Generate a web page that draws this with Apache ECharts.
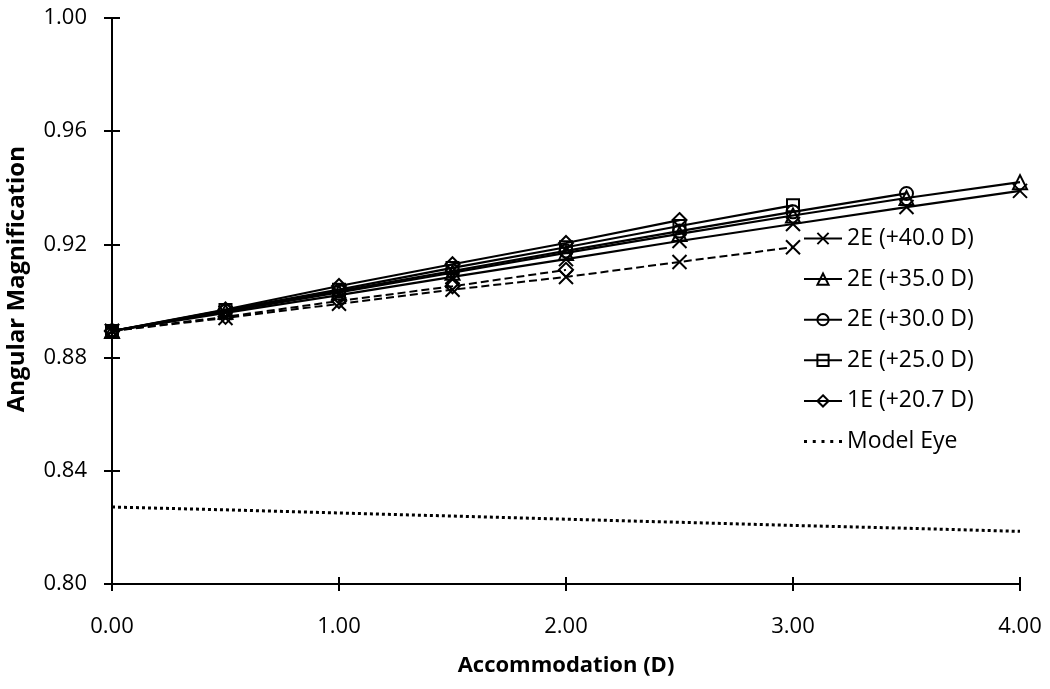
<!DOCTYPE html>
<html>
<head>
<meta charset="utf-8">
<script src="https://cdn.jsdelivr.net/npm/echarts@6/dist/echarts.min.js"></script>
<style>
html,body{margin:0;padding:0;background:#fff;}
#chart{width:1050px;height:689px;}
</style>
</head>
<body>
<div id="chart"></div>
<script>
// Accommodation (D)
var xs = [0, 0.5, 1.0, 1.5, 2.0, 2.5, 3.0, 3.5, 4.0];
var names = ['2E (+40.0 D)', '2E (+35.0 D)', '2E (+30.0 D)', '2E (+25.0 D)', '1E (+20.7 D)', 'Model Eye'];
var lens40 = [0.8894, 0.8958, 0.9021, 0.9085, 0.9148, 0.9212, 0.9272, 0.9332, 0.9389];
var lens35 = [0.8894, 0.8962, 0.9030, 0.9100, 0.9170, 0.9237, 0.9302, 0.9364, 0.9420];
var lens30 = [0.8894, 0.8965, 0.9035, 0.9106, 0.9177, 0.9247, 0.9315, 0.9380];
var lens25 = [0.8894, 0.8968, 0.9040, 0.9117, 0.9190, 0.9265, 0.9338];
var lens20 = [0.8894, 0.8970, 0.9053, 0.9130, 0.9205, 0.9286];
var modelEye = [0.8272, 0.8262, 0.8251, 0.8240, 0.8229, 0.8218, 0.8207, 0.8197, 0.8186];
// dashed companion curves (not in legend)
var dashX = [0.8894, 0.8940, 0.8990, 0.9040, 0.9085, 0.9138, 0.9190];
var dashD = [0.8894, 0.8944, 0.9000, 0.9052, 0.9110];
var yTickLabels = ['0.80', '0.84', '0.88', '0.92', '0.96', '1.00'];
var xTickLabels = ['0.00', '1.00', '2.00', '3.00', '4.00'];

function pts(arr){ return arr.map(function(v,i){ return [xs[i], v]; }); }

var crossPath = 'path://M0 0 L10 10 M10 0 L0 10';
var dotsIcon = 'path://M0 0h0.01v0.01h-0.01z M37.99 13.99h0.01v0.01h-0.01z ' +
  'M0 5.5h3v3h-3z M8.75 5.5h3v3h-3z M17.5 5.5h3v3h-3z M26.25 5.5h3v3h-3z M35 5.5h3v3h-3z';
var FONT = 'Open Sans';

function lineSeries(name, arr, symbol, size, type){
  return {
    name: name, type: 'line', data: pts(arr),
    symbol: symbol, symbolSize: size,
    lineStyle: {color: '#000', width: type === 'solid' ? 2.2 : 2, type: type},
    itemStyle: {color: 'rgba(255,255,255,0)', borderColor: '#000', borderWidth: 2},
    emphasis: {disabled: true}, animation: false, z: 3
  };
}

var series = [
  lineSeries('dashX', dashX, crossPath, 14, 'dashed'),
  lineSeries('dashD', dashD, 'diamond', 14, 'dashed'),
  lineSeries(names[0], lens40, crossPath, 14, 'solid'),
  lineSeries(names[1], lens35, 'triangle', 14, 'solid'),
  lineSeries(names[2], lens30, 'circle', 13, 'solid'),
  lineSeries(names[3], lens25, 'rect', 12, 'solid'),
  lineSeries(names[4], lens20, 'diamond', 14, 'solid'),
  {
    name: names[5], type: 'line', data: pts(modelEye), symbol: 'none',
    lineStyle: {color: '#000', width: 3, type: [3, 3]},
    itemStyle: {color: '#000'}, emphasis: {disabled: true}, animation: false
  }
];

function fmt(list){ return function(v){
  var s = v.toFixed(2);
  return list.indexOf(s) >= 0 ? s : '';
}; }

var legendData = names.map(function(n, i){
  return i === 5 ? {name: n, icon: dotsIcon, itemStyle: {color: '#000', borderWidth: 0}} : {name: n};
});

var chart = echarts.init(document.getElementById('chart'), null, {renderer: 'canvas'});
chart.setOption({
  backgroundColor: '#fff',
  animation: false,
  textStyle: {fontFamily: FONT},
  grid: {left: 112, right: 30, top: 18, bottom: 105, containLabel: false},
  legend: {
    data: legendData, orient: 'vertical', left: 803, top: 227, padding: 0,
    itemWidth: 38, itemHeight: 14, itemGap: 17.6,
    textStyle: {fontFamily: FONT, fontSize: 23, lineHeight: 22, color: '#000'},
    selectedMode: false
  },
  graphic: [{
    type: 'text', left: 5, top: 146, rotation: Math.PI / 2,
    style: {text: 'Angular Magnification', fontFamily: FONT, fontWeight: 'bold',
      fontSize: 24, fill: '#000'}
  }],
  xAxis: [{
    type: 'value', min: 0, max: 4, interval: 1,
    name: 'Accommodation (D)', nameLocation: 'middle', nameGap: 71,
    nameTextStyle: {fontFamily: FONT, fontWeight: 'bold', fontSize: 22, color: '#000'},
    axisLine: {show: true, onZero: false, lineStyle: {color: '#000', width: 2}},
    axisTick: {show: true, inside: false, length: 7, lineStyle: {color: '#000', width: 2}},
    axisLabel: {fontFamily: FONT, fontSize: 22, color: '#000', margin: 32, formatter: fmt(xTickLabels)},
    splitLine: {show: false}
  }, {
    type: 'value', min: 0, max: 4, interval: 1, position: 'bottom',
    axisLine: {show: false}, axisLabel: {show: false},
    axisTick: {show: true, inside: true, length: 7, lineStyle: {color: '#000', width: 2}},
    splitLine: {show: false}
  }],
  yAxis: [{
    type: 'value', min: 0.8, max: 1.0, interval: 0.04,
    axisLine: {show: true, onZero: false, lineStyle: {color: '#000', width: 2}},
    axisTick: {show: true, inside: false, length: 8, lineStyle: {color: '#000', width: 2}},
    axisLabel: {fontFamily: FONT, fontSize: 22, color: '#000', margin: 25, formatter: fmt(yTickLabels)},
    splitLine: {show: false}
  }, {
    type: 'value', min: 0.8, max: 1.0, interval: 0.04, position: 'left',
    axisLine: {show: false}, axisLabel: {show: false},
    axisTick: {show: true, inside: true, length: 8, lineStyle: {color: '#000', width: 2}},
    splitLine: {show: false}
  }, {
    type: 'value', min: 0.8, max: 1.0, interval: 0.04, position: 'right',
    axisLine: {show: true, lineStyle: {color: '#000', width: 2}},
    axisLabel: {show: false}, axisTick: {show: false}, splitLine: {show: false}
  }],
  series: series
});
</script>
</body>
</html>
